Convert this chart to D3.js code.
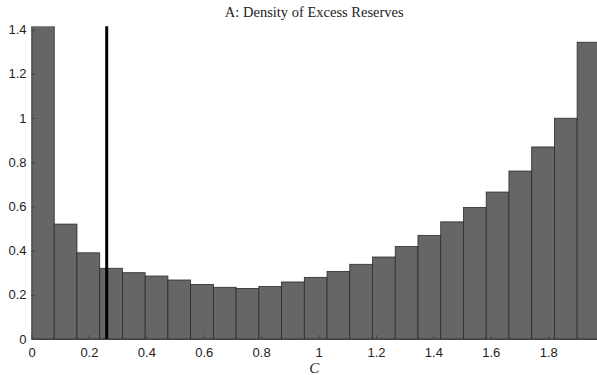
<!DOCTYPE html>
<html>
<head>
<meta charset="utf-8">
<script src="https://cdn.jsdelivr.net/npm/d3@7"></script>
<style>
  body { margin: 0; background: #fff; }
  svg { display: block; }
</style>
</head>
<body>
<div id="chart"></div>
<script>
// histogram densities, 25 equal bins over [0, 1.98]
const binWidth = 0.0792;
const density = [1.50, 0.52, 0.39, 0.32, 0.30, 0.285, 0.267, 0.247, 0.234, 0.229,
                 0.238, 0.258, 0.279, 0.306, 0.338, 0.371, 0.419, 0.469, 0.53, 0.595,
                 0.665, 0.76, 0.869, 0.999, 1.343];
const xTicks = [0, 0.2, 0.4, 0.6, 0.8, 1, 1.2, 1.4, 1.6, 1.8];
const yTicks = [0, 0.2, 0.4, 0.6, 0.8, 1, 1.2, 1.4];
const markerC = 0.262;
const title = 'A: Density of Excess Reserves';
const xLabel = 'C';

const width = 597, height = 375;
const margin = { top: 26.3, right: 0, bottom: 36, left: 31.5 };

const svg = d3.select('#chart').append('svg')
  .attr('width', width)
  .attr('height', height);

const x = d3.scaleLinear().domain([0, 1.97]).range([margin.left, width - margin.right]);
const y = d3.scaleLinear().domain([0, 1.415]).range([height - margin.bottom, margin.top]);

svg.append('defs').append('clipPath').attr('id', 'plot-clip')
  .append('rect')
  .attr('x', margin.left).attr('y', margin.top)
  .attr('width', width - margin.right - margin.left)
  .attr('height', height - margin.bottom - margin.top);

const plot = svg.append('g').attr('clip-path', 'url(#plot-clip)');

// bars
plot.selectAll('rect.bar')
  .data(density)
  .enter().append('rect')
  .attr('class', 'bar')
  .attr('x', (d, i) => x(i * binWidth))
  .attr('width', (d, i) => x((i + 1) * binWidth) - x(i * binWidth))
  .attr('y', d => y(d))
  .attr('height', d => y(0) - y(d))
  .attr('fill', '#666666')
  .attr('stroke', '#2b2b2b')
  .attr('stroke-width', 0.8);

// axes (MATLAB style: ticks pointing inward)
const xAxis = svg.append('g')
  .attr('transform', `translate(0,${y(0)})`)
  .call(d3.axisBottom(x).tickValues(xTicks).tickSize(-4).tickPadding(9).tickSizeOuter(0)
    .tickFormat(d3.format('')));
const yAxis = svg.append('g')
  .attr('transform', `translate(${x(0)},0)`)
  .call(d3.axisLeft(y).tickValues(yTicks).tickSize(-4).tickPadding(5).tickSizeOuter(0)
    .tickFormat(d3.format('')));

[xAxis, yAxis].forEach(g => {
  g.select('.domain').attr('stroke', '#444').attr('stroke-width', 1);
  g.selectAll('.tick line').attr('stroke', '#444');
  g.selectAll('.tick text')
    .attr('fill', '#222')
    .style('font-family', '"Liberation Sans", Arial, sans-serif')
    .style('font-size', '13px');
});

// marker line
svg.append('line')
  .attr('x1', x(markerC)).attr('x2', x(markerC))
  .attr('y1', y.range()[1]).attr('y2', y(0))
  .attr('stroke', '#000')
  .attr('stroke-width', 3);

// title and label
svg.append('text')
  .attr('x', (x.range()[0] + x.range()[1]) / 2)
  .attr('y', 17)
  .attr('text-anchor', 'middle')
  .style('font-family', '"Liberation Serif", "DejaVu Serif", serif')
  .style('font-size', '14.5px')
  .attr('fill', '#222')
  .text(title);

svg.append('text')
  .attr('x', (x.range()[0] + x.range()[1]) / 2)
  .attr('y', 373)
  .attr('text-anchor', 'middle')
  .style('font-family', '"Liberation Serif", "DejaVu Serif", serif')
  .style('font-style', 'italic')
  .style('font-size', '15px')
  .attr('fill', '#222')
  .text(xLabel);
</script>
</body>
</html>
